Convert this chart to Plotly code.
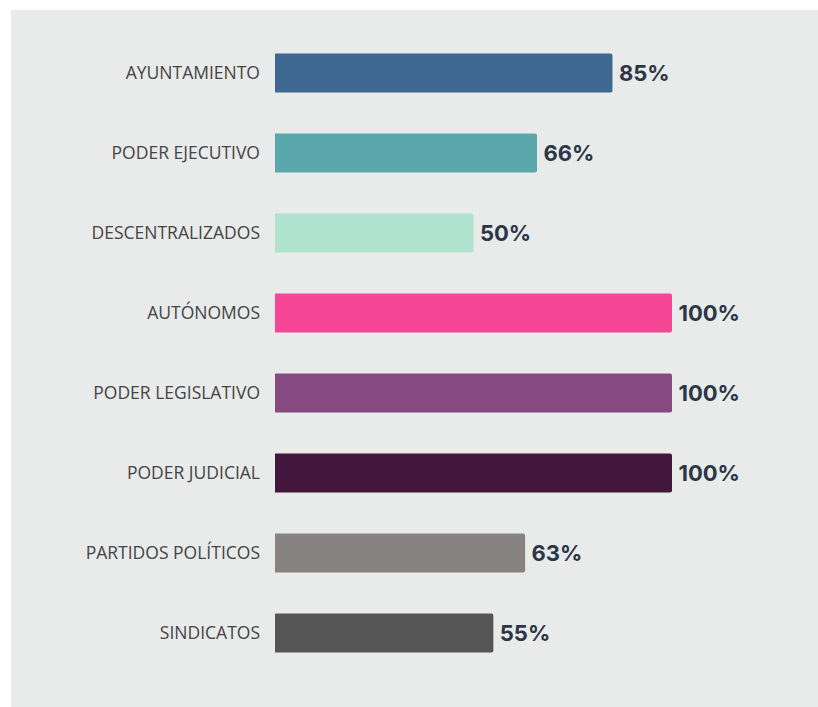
import plotly.graph_objects as go

categories = ["AYUNTAMIENTO", "PODER EJECUTIVO", "DESCENTRALIZADOS", "AUTÓNOMOS",
              "PODER LEGISLATIVO", "PODER JUDICIAL", "PARTIDOS POLÍTICOS", "SINDICATOS"]
values = [85, 66, 50, 100, 100, 100, 63, 55]
colors = ["#3e6891", "#5aa8ad", "#b0e2d0", "#f54796", "#874a80", "#43163d", "#878383", "#555555"]
value_labels = [f"\u2009{v}%" for v in values]

W, H = 818, 707
ML, MR, MT, MB = 275, 0, 33, 34
plot_w = W - ML - MR
plot_h = H - MT - MB
px_per_100 = 397
xmax = 100 * plot_w / px_per_100

fig = go.Figure(go.Bar(
    y=categories, x=values, orientation="h",
    marker=dict(color=colors, line=dict(width=0), cornerradius=2),
    width=0.49,
    text=value_labels, textposition="outside",
    textfont=dict(family="Inter, Lato, sans-serif", size=22, color="#2b3646", weight="bold"),
    cliponaxis=False,
))

# grey panel behind the chart
x0 = (11 - ML) / plot_w
y1 = (H - MB - 10) / plot_h
y0 = -MB / plot_h - 0.02
fig.add_shape(type="rect", xref="paper", yref="paper", x0=x0, x1=1.02, y0=y0, y1=y1,
              fillcolor="#e9eaea", line=dict(width=0), layer="below")

fig.update_layout(
    width=W, height=H,
    margin=dict(l=ML, r=MR, t=MT, b=MB),
    paper_bgcolor="white", plot_bgcolor="rgba(0,0,0,0)",
    showlegend=False,
    xaxis=dict(range=[0, xmax], visible=False, fixedrange=True),
    yaxis=dict(autorange="reversed", showgrid=False, zeroline=False, showline=False,
               ticks="", ticklabelstandoff=14,
               tickfont=dict(family="Open Sans, Lato, sans-serif", size=17.5, color="#444444")),
)

fig.write_html("out.html",
               config={"displayModeBar": False, "staticPlot": True},
               post_script="document.body.style.margin='0';document.body.style.overflow='hidden';")
